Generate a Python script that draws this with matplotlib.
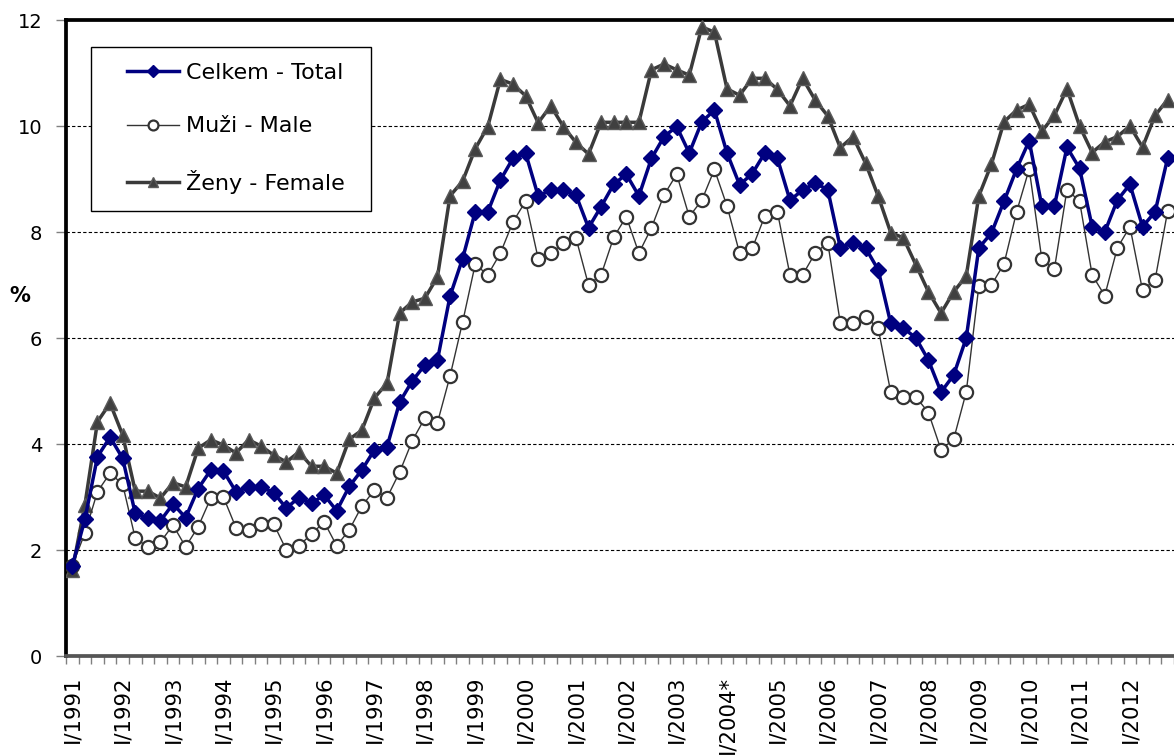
import numpy as np
import matplotlib
matplotlib.use("Agg")
import matplotlib.pyplot as plt
from matplotlib.patches import Rectangle

# quarterly values I/1991 .. IV/2012
years = list(range(1991, 2013))
total = [1.7, 2.58, 3.76, 4.13, 3.73, 2.69, 2.6, 2.55, 2.87, 2.61, 3.16, 3.51,
         3.49, 3.1, 3.19, 3.19, 3.08, 2.79, 2.99, 2.88, 3.04, 2.74, 3.2, 3.51,
         3.89, 3.95, 4.79, 5.19, 5.49, 5.58, 6.79, 7.5, 8.38, 8.38, 8.98, 9.39,
         9.49, 8.68, 8.79, 8.79, 8.7, 8.08, 8.48, 8.9, 9.09, 8.68, 9.39, 9.8,
         9.99, 9.49, 10.08, 10.3, 9.49, 8.89, 9.1, 9.49, 9.39, 8.6, 8.79, 8.92,
         8.8, 7.7, 7.8, 7.7, 7.29, 6.28, 6.19, 6.0, 5.58, 4.98, 5.3, 6.0,
         7.7, 7.98, 8.58, 9.19, 9.72, 8.49, 8.49, 9.6, 9.2, 8.1, 8.0, 8.6,
         8.9, 8.1, 8.38, 9.4]
male = [1.7, 2.32, 3.1, 3.45, 3.24, 2.22, 2.06, 2.15, 2.47, 2.06, 2.44, 2.98,
        3.0, 2.42, 2.38, 2.49, 2.49, 2.0, 2.08, 2.3, 2.53, 2.08, 2.38, 2.83,
        3.13, 2.99, 3.47, 4.06, 4.49, 4.4, 5.28, 6.3, 7.39, 7.19, 7.6, 8.19,
        8.58, 7.5, 7.6, 7.79, 7.89, 7.0, 7.19, 7.9, 8.29, 7.6, 8.08, 8.7,
        9.09, 8.29, 8.6, 9.18, 8.49, 7.6, 7.69, 8.3, 8.38, 7.19, 7.19, 7.6,
        7.8, 6.28, 6.28, 6.4, 6.19, 4.98, 4.89, 4.89, 4.59, 3.89, 4.09, 4.98,
        6.98, 7.0, 7.4, 8.38, 9.19, 7.49, 7.3, 8.8, 8.58, 7.19, 6.8, 7.7,
        8.1, 6.9, 7.1, 8.4]
female = [1.62, 2.85, 4.42, 4.77, 4.17, 3.11, 3.11, 2.98, 3.27, 3.19, 3.92, 4.08,
          3.98, 3.83, 4.08, 3.96, 3.79, 3.66, 3.85, 3.58, 3.58, 3.45, 4.09, 4.26,
          4.87, 5.15, 6.47, 6.68, 6.75, 7.15, 8.68, 8.96, 9.57, 9.99, 10.88, 10.79,
          10.57, 10.06, 10.38, 9.99, 9.69, 9.47, 10.07, 10.07, 10.07, 10.07, 11.06, 11.17,
          11.06, 10.96, 11.87, 11.77, 10.7, 10.58, 10.9, 10.9, 10.69, 10.38, 10.9, 10.49,
          10.19, 9.59, 9.8, 9.3, 8.68, 7.99, 7.89, 7.38, 6.87, 6.47, 6.87, 7.17,
          8.68, 9.28, 10.08, 10.3, 10.41, 9.9, 10.2, 10.7, 10.0, 9.5, 9.7, 9.8,
          10.0, 9.6, 10.2, 10.5]
year_labels = ["I/%d" % y for y in years]
year_labels[years.index(2004)] = "I/2004*"

x = np.arange(len(total))
W, H = 1174, 756

fig = plt.figure(figsize=(W / 100, H / 100), dpi=100)
ax = fig.add_axes([66 / W, 100 / H, 1 - 66 / W, 636 / H])

ax.plot(x, female, color='#3a3a3a', lw=2.5, marker='^', ms=10.5,
        mfc='#404040', mec='#5a5a5a', mew=1, label='Ženy - Female', zorder=3)
ax.plot(x, male, color='#333333', lw=1, marker='o', ms=9.5,
        mfc='white', mec='#333333', mew=1.6, label='Muži - Male', zorder=4)
ax.plot(x, total, color='#000080', lw=2.5, marker='D', ms=8,
        mfc='#000080', mec='#000080', label='Celkem - Total', zorder=5)

ax.set_xlim(-0.5, 86.84)
ax.set_ylim(0, 12)
ax.set_yticks(np.arange(0, 13, 2))
ax.set_yticklabels([str(v) for v in range(0, 13, 2)], fontsize=14)
for v in range(2, 12, 2):
    ax.axhline(v, color='black', lw=0.8, ls=(0, (3, 2)), zorder=1)

ax.set_xticks(np.arange(0, len(total), 4))
ax.set_xticklabels(year_labels, rotation=90, fontsize=15.3)
ax.set_xticks(np.arange(-0.5, len(total), 1), minor=True)
ax.tick_params(axis='x', which='major', length=0, pad=14)
ax.tick_params(axis='x', which='minor', length=6, color='#808080', width=1)
ax.tick_params(axis='y', length=7, color='#808080', width=1, pad=10)

ax.spines['right'].set_visible(False)
ax.spines['left'].set_linewidth(2.7)
ax.spines['top'].set_linewidth(2.7)
ax.spines['bottom'].set_linewidth(2.7)
ax.spines['bottom'].set_color('#555555')

fig.text(20 / W, 1 - 296 / H, '%', fontsize=15, fontweight='bold',
         ha='center', va='center')

# legend frame drawn separately so the inner padding can match
fig.patches.append(Rectangle((91 / W, 1 - 211 / H), 280 / W, 164 / H,
                             transform=fig.transFigure, facecolor='white',
                             edgecolor='black', lw=1, zorder=10))
handles, labels = ax.get_legend_handles_labels()
leg = fig.legend(handles[::-1], labels[::-1], loc='upper left',
                 bbox_to_anchor=(127 / W, 1 - 63 / H),
                 fontsize=16, frameon=False, markerscale=0.75,
                 handlelength=2.35, handletextpad=0.3, labelspacing=1.5,
                 borderpad=0, borderaxespad=0)
leg.set_zorder(11)

fig.savefig('out.png', dpi=100)
